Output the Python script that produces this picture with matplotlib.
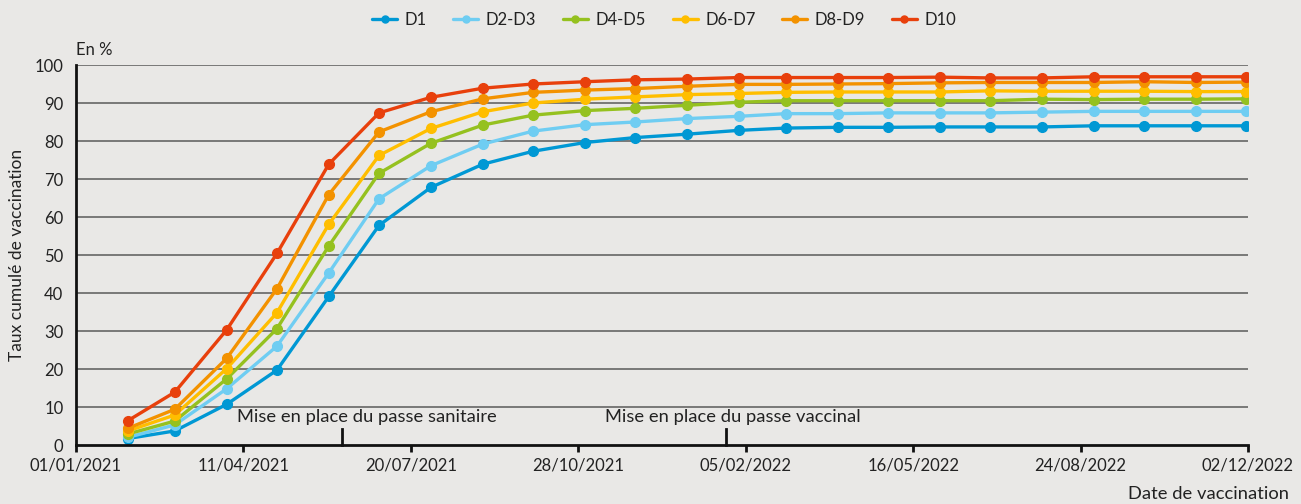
import matplotlib
matplotlib.use("Agg")
import matplotlib.pyplot as plt
import matplotlib.dates as mdates
import pandas as pd

plt.rcParams['font.family'] = ['Lato', 'DejaVu Sans']

dates = pd.date_range('2021-02-01', periods=23, freq='MS')

series_names = ['D1', 'D2-D3', 'D4-D5', 'D6-D7', 'D8-D9', 'D10']
colors = ['#0098D4', '#6FCDF2', '#95C11F', '#FFBE00', '#F39200', '#E8400C']

d1 = [1.7, 3.7, 10.7, 19.7, 39.1, 57.8, 67.8, 73.9, 77.3, 79.6, 80.9, 81.8, 82.8, 83.4, 83.6, 83.6, 83.7, 83.7, 83.7, 84.0, 84.0, 84.0, 84.0]
d2_3 = [2.0, 5.3, 14.8, 26.0, 45.3, 64.8, 73.5, 79.2, 82.6, 84.3, 85.0, 85.9, 86.5, 87.2, 87.2, 87.4, 87.4, 87.4, 87.6, 87.8, 87.8, 87.8, 87.8]
d4_5 = [2.9, 6.3, 17.4, 30.6, 52.4, 71.5, 79.4, 84.2, 86.8, 88.0, 88.6, 89.4, 90.2, 90.6, 90.6, 90.6, 90.6, 90.6, 91.0, 90.9, 91.0, 91.0, 91.1]
d6_7 = [3.7, 7.9, 20.1, 34.8, 58.1, 76.2, 83.3, 87.7, 90.0, 91.0, 91.6, 92.2, 92.5, 92.8, 92.9, 92.9, 92.9, 93.2, 93.1, 93.1, 93.1, 93.0, 93.0]
d8_9 = [4.4, 9.4, 22.8, 41.1, 65.9, 82.4, 87.7, 91.1, 92.8, 93.4, 93.8, 94.4, 94.9, 94.9, 95.0, 95.1, 95.3, 95.4, 95.4, 95.4, 95.6, 95.4, 95.5]
d10 = [6.4, 13.9, 30.3, 50.4, 73.9, 87.4, 91.5, 93.9, 95.0, 95.6, 96.1, 96.3, 96.7, 96.7, 96.7, 96.7, 96.8, 96.6, 96.6, 96.9, 96.9, 96.9, 96.9]
values = [d1, d2_3, d4_5, d6_7, d8_9, d10]

tick_dates = pd.date_range('2021-01-01', periods=8, freq='100D')
event_dates = [pd.Timestamp('2021-06-09'), pd.Timestamp('2022-01-24')]
event_labels = ['Mise en place du passe sanitaire', 'Mise en place du passe vaccinal']
event_text_x = [pd.Timestamp('2021-06-24'), pd.Timestamp('2022-01-28')]

bg = '#E9E8E6'
txt = '#222222'
fig = plt.figure(figsize=(13.01, 5.04), dpi=100, facecolor=bg)
ax = fig.add_axes([76/1301, 59/504, (1248-76)/1301, (445-65)/504])
ax.set_facecolor(bg)

for yv in range(10, 101, 10):
    ax.axhline(yv, color='#5a5a5a', lw=1.1, zorder=1)

for name, col, vals in zip(series_names, colors, values):
    ax.plot(dates, vals, color=col, lw=2.4, marker='o', markersize=7,
            label=name, zorder=3, solid_capstyle='round')

ax.set_xlim(tick_dates[0], tick_dates[-1])
ax.set_ylim(0, 100)
ax.set_xticks(tick_dates)
ax.xaxis.set_major_formatter(mdates.DateFormatter('%d/%m/%Y'))
ax.set_yticks(range(0, 101, 10))
ax.tick_params(axis='x', length=5, width=2, color='#111111', labelsize=12, colors=txt, pad=4)
ax.tick_params(axis='y', length=0, labelsize=12, colors=txt, pad=9)
for s in ['top', 'right']:
    ax.spines[s].set_visible(False)
for s in ['left', 'bottom']:
    ax.spines[s].set_color('#111111')
    ax.spines[s].set_linewidth(2)
    ax.spines[s].set_zorder(4)

for d, lab, tx in zip(event_dates, event_labels, event_text_x):
    ax.plot([d, d], [0, 4.2], color='#111111', lw=2, zorder=4, clip_on=False)
    ax.text(tx, 7.4, lab, ha='center', va='center', fontsize=13.2, color=txt)

ax.set_ylabel('Taux cumulé de vaccination', fontsize=12.5, color=txt, labelpad=7)
fig.text(76/1301, 1 - 50/504, 'En %', ha='left', va='center', fontsize=12, color=txt)
fig.text(1289/1301, 1 - 494/504, 'Date de vaccination', ha='right', va='center', fontsize=13.2, color=txt)

fig.legend(loc='center', bbox_to_anchor=(664/1301, 1 - 20/504), ncol=6, frameon=False,
           fontsize=12, handlelength=1.5, columnspacing=1.6, handletextpad=0.45,
           markerscale=0.72, labelcolor=txt)

fig.savefig('out.png', dpi=100, facecolor=bg)
